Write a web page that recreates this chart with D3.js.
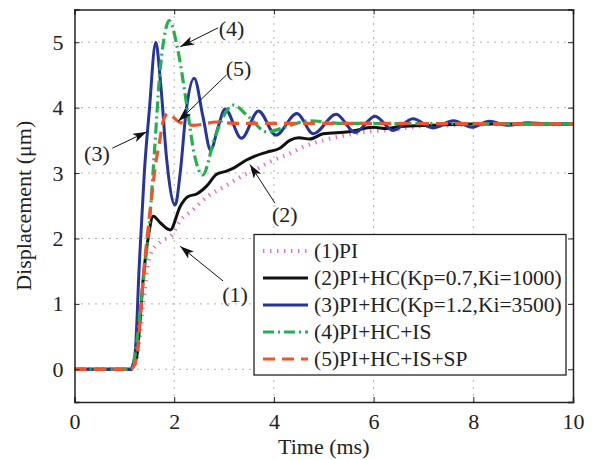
<!DOCTYPE html>
<html>
<head>
<meta charset="utf-8">
<script src="https://cdn.jsdelivr.net/npm/d3@7"></script>
<style>
  html, body { margin: 0; padding: 0; background: #fff; }
  svg { display: block; }
</style>
</head>
<body>
<svg id="chart" width="592" height="460"></svg>
<script>
// ---------------- data ----------------
const xTicks = [0, 2, 4, 6, 8, 10];
const yTicks = [0, 1, 2, 3, 4, 5];

const tPI   = [0, 1.13, 1.25, 1.31, 1.41, 1.51, 1.72, 1.95, 2.12, 2.35, 2.68, 3.02, 3.35, 3.65, 3.92, 4.26, 4.59, 4.99, 5.46, 5.86, 6.33, 6.86, 7.53, 8.5, 10];
const vPI   = [0, 0, 0.15, 0.51, 1.22, 1.73, 1.95, 2.05, 2.27, 2.42, 2.65, 2.8, 2.95, 3.06, 3.17, 3.28, 3.4, 3.5, 3.58, 3.63, 3.66, 3.71, 3.73, 3.75, 3.75];

const tHC1  = [0, 1.13, 1.25, 1.31, 1.38, 1.48, 1.58, 1.72, 1.92, 2.12, 2.28, 2.45, 2.65, 2.85, 3.05, 3.2, 3.45, 3.62, 3.86, 4.12, 4.32, 4.5, 4.72, 4.99, 5.5, 6.0, 6.26, 6.53, 7.2, 8, 10];
const vHC1  = [0, 0, 0.2, 0.7, 1.4, 2.02, 2.34, 2.24, 2.13, 2.49, 2.64, 2.68, 2.8, 2.98, 3.03, 3.08, 3.2, 3.26, 3.32, 3.38, 3.5, 3.54, 3.52, 3.6, 3.63, 3.7, 3.68, 3.71, 3.73, 3.75, 3.75];

const tHC2  = [0, 1.12, 1.21, 1.3, 1.4, 1.5, 1.63, 1.73, 1.85, 2.02, 2.12, 2.24, 2.4, 2.58, 2.73, 2.88, 3.02, 3.35, 3.69, 4.04, 4.46, 4.79, 5.25, 5.63, 6.03, 6.39, 6.79, 7.19, 7.6, 7.97, 8.32, 8.7, 9.1, 9.5, 10];
const vHC2  = [0, 0, 0.2, 1.6, 3.0, 3.95, 5.0, 4.35, 3.2, 2.51, 3.0, 3.95, 4.45, 3.85, 3.35, 3.7, 3.98, 3.53, 3.95, 3.58, 3.91, 3.6, 3.9, 3.62, 3.87, 3.65, 3.83, 3.69, 3.8, 3.7, 3.79, 3.73, 3.77, 3.75, 3.75];

const tIS   = [0, 1.13, 1.2, 1.3, 1.4, 1.51, 1.61, 1.7, 1.8, 1.9, 2.06, 2.25, 2.4, 2.57, 2.82, 3.19, 3.49, 3.86, 4.3, 4.7, 5.3, 10];
const vIS   = [0, 0, 0.15, 0.75, 1.5, 2.3, 3.4, 4.42, 5.08, 5.33, 4.93, 4.05, 3.3, 2.97, 3.56, 4.04, 3.86, 3.63, 3.72, 3.8, 3.76, 3.75];

const tSP   = [0, 1.13, 1.25, 1.31, 1.38, 1.48, 1.55, 1.62, 1.7, 1.78, 1.88, 2.0, 2.1, 2.4, 2.85, 3.2, 4, 10];
const vSP   = [0, 0, 0.2, 0.71, 1.42, 2.18, 2.65, 3.1, 3.45, 3.8, 3.91, 3.84, 3.78, 3.73, 3.78, 3.76, 3.76, 3.75];

const seriesNames = ["(1)PI", "(2)PI+HC(Kp=0.7,Ki=1000)", "(3)PI+HC(Kp=1.2,Ki=3500)", "(4)PI+HC+IS", "(5)PI+HC+IS+SP"];

// annotation labels: text position and arrow tail/tip, in data units
const annText  = ["(1)", "(2)", "(3)", "(4)", "(5)"];
const annTextX = [3.22, 4.22, 0.45, 3.15, 3.29];
const annTextY = [1.14, 2.36, 3.30, 5.21, 4.60];
const annTailX = [2.98, 4.02, 0.76, 2.88, 3.05];
const annTailY = [1.35, 2.54, 3.38, 5.22, 4.50];
const annTipX  = [2.12, 3.52, 1.45, 2.12, 2.08];
const annTipY  = [1.88, 3.13, 3.63, 4.93, 3.79];

// ---------------- styles ----------------
const FONT = "Liberation Serif";
const styles = [
  { color: "#e070c8", width: 4,   dash: "1.4 5.6" },
  { color: "#111111", width: 3,   dash: null },
  { color: "#26359a", width: 3,   dash: null },
  { color: "#22b14c", width: 3.2, dash: "11 4 2 4" },
  { color: "#f0542a", width: 3.2, dash: "12 7" }
];
const seriesT = [tPI, tHC1, tHC2, tIS, tSP];
const seriesV = [vPI, vHC1, vHC2, vIS, vSP];

// ---------------- chart ----------------
const svg = d3.select("#chart").attr("font-family", FONT);
const L = 74.5, R = 573, T = 9.5, B = 402;
const x = d3.scaleLinear().domain([0, 10]).range([L, R]);
const y = d3.scaleLinear().domain([-0.5, 5.5]).range([B, T]);

function txt(sel) { return sel.attr("font-family", FONT).attr("fill", "#222"); }

// grid
const grid = svg.append("g");
grid.selectAll(".gx").data(xTicks.filter(d => d > 0 && d < 10)).enter().append("line")
  .attr("x1", d => x(d)).attr("x2", d => x(d)).attr("y1", T).attr("y2", B)
  .attr("stroke", "#666").attr("stroke-width", 1).attr("stroke-dasharray", "1 6");
grid.selectAll(".gy").data(yTicks).enter().append("line")
  .attr("x1", L).attr("x2", R).attr("y1", d => y(d)).attr("y2", d => y(d))
  .attr("stroke", "#666").attr("stroke-width", 1).attr("stroke-dasharray", "1 6");

// curves
svg.append("clipPath").attr("id", "clip").append("rect")
  .attr("x", L).attr("y", T).attr("width", R - L).attr("height", B - T);
const line = d3.line().x(d => x(d[0])).y(d => y(d[1])).curve(d3.curveMonotoneX);
const curves = svg.append("g").attr("clip-path", "url(#clip)");
seriesT.forEach((ts, i) => {
  const pts = ts.map((t, k) => [t, seriesV[i][k]]);
  const p = curves.append("path").datum(pts)
    .attr("d", line).attr("fill", "none")
    .attr("stroke", styles[i].color).attr("stroke-width", styles[i].width)
    .attr("stroke-linejoin", "round");
  if (styles[i].dash) p.attr("stroke-dasharray", styles[i].dash);
});

// axes (MATLAB style: inward ticks on all sides)
const axB = svg.append("g").attr("transform", `translate(0,${B})`)
  .call(d3.axisBottom(x).tickValues(xTicks).tickSize(-5).tickPadding(11).tickFormat(d3.format("d")));
const axT = svg.append("g").attr("transform", `translate(0,${T})`)
  .call(d3.axisTop(x).tickValues(xTicks).tickSize(-5).tickFormat(""));
const axL = svg.append("g").attr("transform", `translate(${L},0)`)
  .call(d3.axisLeft(y).tickValues(yTicks).tickSize(-5).tickPadding(11).tickFormat(d3.format("d")));
const axR = svg.append("g").attr("transform", `translate(${R},0)`)
  .call(d3.axisRight(y).tickValues(yTicks).tickSize(-5).tickFormat(""));
[axB, axT, axL, axR].forEach(a => {
  a.attr("font-family", FONT).attr("font-size", 22);
  a.select(".domain").attr("stroke", "#222").attr("stroke-width", 1.5);
  a.selectAll(".tick line").attr("stroke", "#222").attr("stroke-width", 1);
  txt(a.selectAll("text"));
});

// axis titles
txt(svg.append("text")).attr("x", (L + R) / 2).attr("y", 454).attr("text-anchor", "middle")
  .attr("font-size", 22).text("Time (ms)");
txt(svg.append("text")).attr("transform", `translate(31,${(T + B) / 2}) rotate(-90)`)
  .attr("text-anchor", "middle").attr("font-size", 22).text("Displacement (μm)");

// annotations
const defs = svg.append("defs");
defs.append("marker").attr("id", "arr").attr("viewBox", "0 0 14 9")
  .attr("refX", 14).attr("refY", 4.5).attr("markerWidth", 14).attr("markerHeight", 9)
  .attr("markerUnits", "userSpaceOnUse").attr("orient", "auto")
  .append("path").attr("d", "M0,0 L14,4.5 L0,9 L3.5,4.5 Z").attr("fill", "#111");
const ann = svg.append("g");
annText.forEach((s, i) => {
  ann.append("line")
    .attr("x1", x(annTailX[i])).attr("y1", y(annTailY[i]))
    .attr("x2", x(annTipX[i])).attr("y2", y(annTipY[i]))
    .attr("stroke", "#111").attr("stroke-width", 1).attr("marker-end", "url(#arr)");
  txt(ann.append("text")).attr("x", x(annTextX[i])).attr("y", y(annTextY[i]))
    .attr("text-anchor", "middle").attr("dominant-baseline", "central")
    .attr("font-size", 22).text(s);
});

// legend
const lg = svg.append("g");
const lgX = 254, lgY = 234.5, lgW = 312, lgH = 140.5, rowH = 27, row0 = 251;
lg.append("rect").attr("x", lgX).attr("y", lgY).attr("width", lgW).attr("height", lgH)
  .attr("fill", "#fff").attr("stroke", "#222").attr("stroke-width", 1.3);
seriesNames.forEach((name, i) => {
  const yy = row0 + i * rowH;
  const l = lg.append("line").attr("x1", 263).attr("x2", 308).attr("y1", yy).attr("y2", yy)
    .attr("stroke", styles[i].color).attr("stroke-width", styles[i].width);
  if (styles[i].dash) l.attr("stroke-dasharray", styles[i].dash);
  txt(lg.append("text")).attr("x", 314).attr("y", yy).attr("dominant-baseline", "central")
    .attr("font-size", 21.5).text(name);
});
</script>
</body>
</html>
